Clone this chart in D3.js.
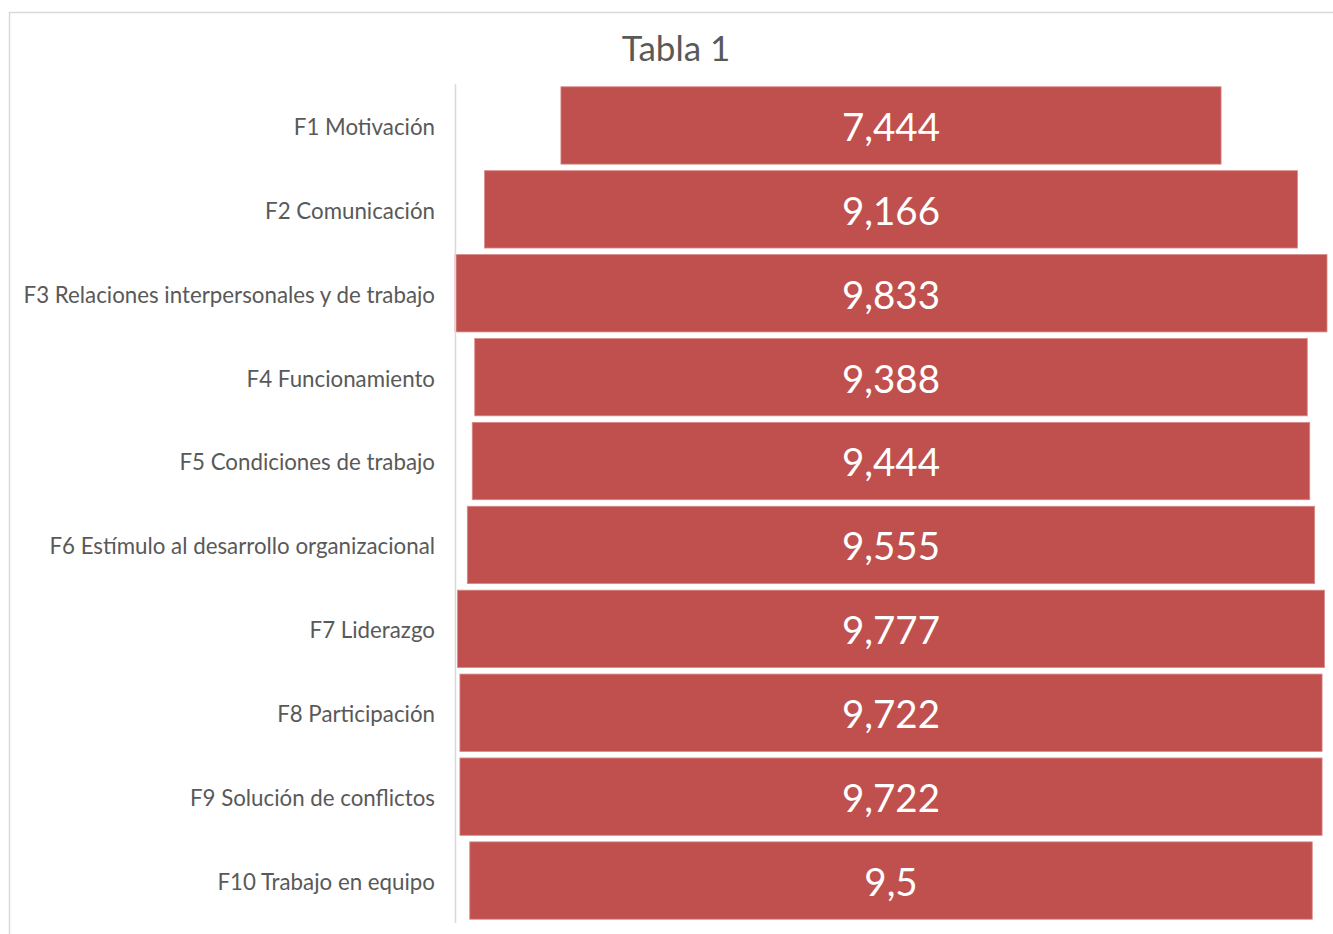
<!DOCTYPE html>
<html>
<head>
<meta charset="utf-8">
<script src="https://cdn.jsdelivr.net/npm/d3@7"></script>
<style>
  html, body { margin: 0; padding: 0; background: #ffffff; }
  svg { display: block; }
</style>
</head>
<body>
<svg id="chart" width="1333" height="934"></svg>
<script>
const title = "Tabla 1";
const categories = [
  "F1 Motivación",
  "F2 Comunicación",
  "F3 Relaciones interpersonales y de trabajo",
  "F4 Funcionamiento",
  "F5 Condiciones de trabajo",
  "F6 Estímulo al desarrollo organizacional",
  "F7 Liderazgo",
  "F8 Participación",
  "F9 Solución de conflictos",
  "F10 Trabajo en equipo"
];
const values = [7.444, 9.166, 9.833, 9.388, 9.444, 9.555, 9.777, 9.722, 9.722, 9.5];
const valueLabels = ["7,444", "9,166", "9,833", "9,388", "9,444", "9,555", "9,777", "9,722", "9,722", "9,5"];

const svg = d3.select("#chart");
const plot = { left: 455, right: 1327, top: 83.5, bottom: 922.5 };

// chart border (partially visible, like the source image)
svg.append("rect")
  .attr("x", 9.5).attr("y", 12.5)
  .attr("width", 1400).attr("height", 1000)
  .attr("fill", "none").attr("stroke", "#d9d9d9").attr("stroke-width", 1.5);

const maxV = d3.max(values);
const x = d3.scaleLinear().domain([-maxV / 2, maxV / 2]).range([plot.left, plot.right]);
const y = d3.scaleBand().domain(categories).range([plot.top, plot.bottom]).paddingInner(0.078).paddingOuter(0.039);

const data = categories.map((c, i) => ({ c, v: values[i], label: valueLabels[i] }));

// bars
svg.append("g").selectAll("rect").data(data).enter().append("rect")
  .attr("x", d => x(-d.v / 2))
  .attr("width", d => x(d.v / 2) - x(-d.v / 2))
  .attr("y", d => y(d.c))
  .attr("height", y.bandwidth())
  .attr("fill", "#C0504D")
  .attr("stroke", "#d88a88").attr("stroke-width", 0.8);

// category axis
const axis = svg.append("g")
  .attr("transform", `translate(${plot.left},0)`)
  .call(d3.axisLeft(y).tickSize(0).tickPadding(20));
axis.select(".domain").attr("stroke", "#d9d9d9").attr("stroke-width", 1.5);
axis.selectAll("text")
  .attr("fill", "#595959")
  .style("font-family", "Lato, 'Open Sans', sans-serif")
  .style("font-size", "22.3px")
  .attr("dy", "0.42em");

// value labels
svg.append("g").selectAll("text").data(data).enter().append("text")
  .attr("x", x(0))
  .attr("y", d => y(d.c) + y.bandwidth() / 2 + 1.5)
  .attr("dy", "0.36em")
  .attr("text-anchor", "middle")
  .attr("fill", "#ffffff")
  .style("font-family", "Lato, 'Open Sans', sans-serif")
  .style("font-size", "38.5px")
  .text(d => d.label);

// title
svg.append("text")
  .attr("x", 676).attr("y", 61)
  .attr("text-anchor", "middle")
  .attr("fill", "#595959")
  .style("font-family", "Lato, 'Open Sans', sans-serif")
  .style("font-size", "35px")
  .text(title);
</script>
</body>
</html>
